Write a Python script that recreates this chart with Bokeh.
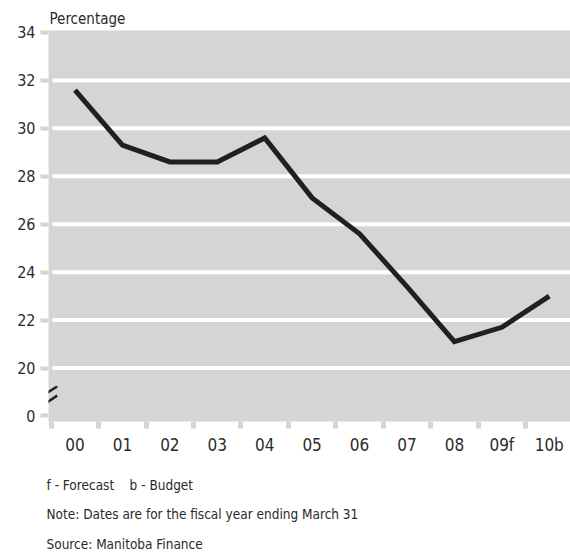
from bokeh.plotting import figure
from bokeh.models import Range1d, FixedTicker, Arrow, Title
from bokeh.embed import file_html
from bokeh.resources import INLINE

# ---- data ----
years = ["00", "01", "02", "03", "04", "05", "06", "07", "08", "09f", "10b"]
values = [31.6, 29.3, 28.6, 28.6, 29.6, 27.1, 25.6, 23.4, 21.1, 21.7, 23.0]
y_ticks = [18, 20, 22, 24, 26, 28, 30, 32, 34]
y_tick_labels = ["0", "20", "22", "24", "26", "28", "30", "32", "34"]
grid_values = [20, 22, 24, 26, 28, 30, 32]
footnotes = ["f - Forecast\u00a0\u00a0\u00a0 b - Budget",
             "Note: Dates are for the fiscal year ending March 31",
             "Source: Manitoba Finance"]

FONT = "'Liberation Sans Narrow', 'DejaVu Sans Condensed', 'Roboto Condensed', sans-serif"
GRAY = "#d4d5d7"
INK = "#231f20"
TXT = "#2b2b2b"

idx = list(range(len(years)))

p = figure(width=570, height=554,
           x_range=Range1d(-0.559, 10.448), y_range=Range1d(17.77, 34.083),
           output_backend="svg", toolbar_location=None,
           min_border_left=48, min_border_right=0, min_border_top=30, min_border_bottom=133,
           background_fill_color=GRAY, border_fill_color="white", outline_line_color=None)

p.xgrid.visible = False
p.ygrid.visible = False

# white gridlines (start slightly inside the frame)
p.segment(x0=[-0.475] * len(grid_values), x1=[10.448] * len(grid_values),
          y0=grid_values, y1=grid_values, line_color="white", line_width=4)

# data line
p.line(x=idx, y=values, line_width=5, line_color=INK, line_join="miter")

# y axis
ya = p.yaxis[0]
ya.ticker = FixedTicker(ticks=y_ticks, minor_ticks=[])
ya.major_label_overrides = {t: l for t, l in zip(y_ticks, y_tick_labels)}
ya.axis_line_color = None
ya.major_tick_line_color = GRAY
ya.major_tick_line_width = 4
ya.major_tick_out = 8
ya.major_tick_in = 0
ya.minor_tick_line_color = None
ya.major_label_standoff = 5
ya.major_label_text_font = FONT
ya.major_label_text_font_size = "16px"
ya.major_label_text_color = TXT

# x axis
xa = p.xaxis[0]
xa.ticker = FixedTicker(ticks=idx, minor_ticks=[i - 0.5 for i in idx])
xa.major_label_overrides = {i: y for i, y in zip(idx, years)}
xa.axis_line_color = None
xa.major_tick_line_color = None
xa.major_tick_out = 0
xa.major_tick_in = 0
xa.minor_tick_line_color = GRAY
xa.minor_tick_line_width = 5
xa.minor_tick_out = 7
xa.minor_tick_in = 0
xa.major_label_standoff = 6
xa.major_label_text_font = FONT
xa.major_label_text_font_size = "17px"
xa.major_label_text_color = TXT

# axis break marks
for y0, y1 in [(18.925, 19.23), (18.53, 18.85)]:
    p.add_layout(Arrow(end=None, x_start=-0.622, y_start=y0, x_end=-0.376, y_end=y1,
                       line_color=INK, line_width=2.5))

# "Percentage" label as title
p.title.text = "Percentage"
p.title.align = "left"
p.title.offset = 1
p.title.standoff = 6
p.title.text_font = FONT
p.title.text_font_size = "15px"
p.title.text_font_style = "normal"
p.title.text_color = TXT

# spacer between axis and footnotes
p.add_layout(Title(text="\u00a0", text_font_size="10px", standoff=0), "below")

# footnotes as titles below
for t, gap, va in zip(footnotes, [8, 18, 2], ["bottom", "top", "bottom"]):
    p.add_layout(Title(text=t, align="left", offset=-2, standoff=gap, vertical_align=va,
                       text_font=FONT, text_font_size="13.5px", text_font_style="normal",
                       text_color=TXT), "below")

open("out.html", "w").write(file_html(p, INLINE))
